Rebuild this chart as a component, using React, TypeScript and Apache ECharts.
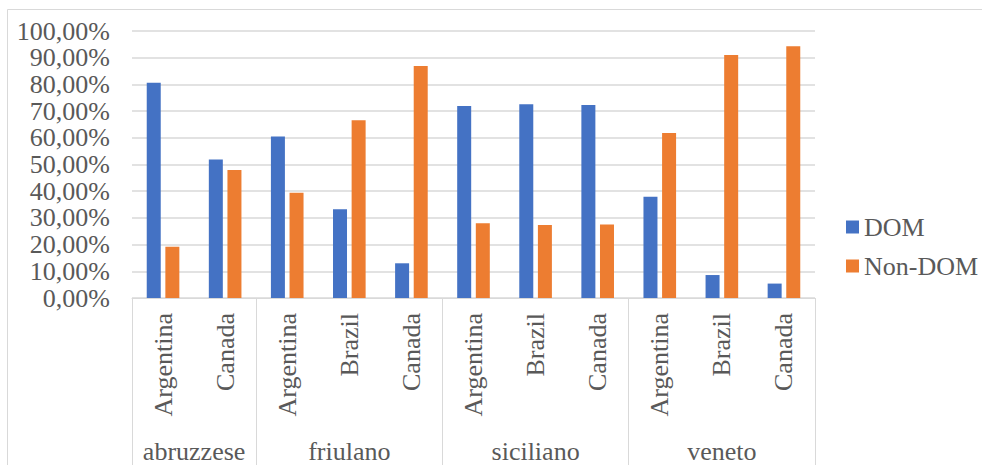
import React, { useEffect, useRef } from "react";
import * as echarts from "echarts";

const languages = ["abruzzese", "friulano", "siciliano", "veneto"];
const countriesByLanguage = [
  ["Argentina", "Canada"],
  ["Argentina", "Brazil", "Canada"],
  ["Argentina", "Brazil", "Canada"],
  ["Argentina", "Brazil", "Canada"],
];
const domValues = [80.6, 51.9, 60.5, 33.2, 13.0, 71.9, 72.6, 72.3, 37.9, 8.6, 5.4];
const nonDomValues = [19.2, 47.9, 39.4, 66.6, 86.9, 28.0, 27.3, 27.5, 61.8, 91.0, 94.3];
const seriesNames = ["DOM", "Non-DOM"];
const colors = ["#4472C4", "#ED7D31"];

const FONT = "Liberation Serif";
const TEXT = "#595959";
const LINE = "#D9D9D9";

export default function App() {
  const ref = useRef<HTMLDivElement>(null);

  useEffect(() => {
    if (!ref.current) return;
    const chart = echarts.init(ref.current, undefined, { renderer: "svg" });

    const countries = countriesByLanguage.flat();
    // secondary axis with half-slot points: boundaries and group centres
    const total = countries.length * 2;
    const halfData: string[] = [];
    for (let i = 0; i <= total; i++) halfData.push("_" + i);
    const boundaryIdx: number[] = [0];
    const labelIdx: Record<number, string> = {};
    let acc = 0;
    countriesByLanguage.forEach((c, gi) => {
      labelIdx[acc * 2 + c.length] = languages[gi];
      acc += c.length;
      boundaryIdx.push(acc * 2);
    });
    const groupData = halfData.map((d, i) => (labelIdx[i] !== undefined ? labelIdx[i] : d));

    const serifText = { fontFamily: FONT, fontSize: 26, color: TEXT, fontWeight: "normal" as const };

    chart.setOption({
      animation: false,
      textStyle: { fontFamily: FONT },
      graphic: [
        {
          type: "rect",
          shape: { x: 7.5, y: 9.5, width: 1000, height: 500 },
          style: { fill: "none", stroke: LINE, lineWidth: 1 },
          silent: true,
        },
      ],
      grid: { left: 132, right: 167, top: 31, bottom: 167, containLabel: false },
      legend: {
        orient: "vertical",
        left: 841,
        top: 209,
        itemWidth: 13,
        itemHeight: 13,
        itemGap: 13,
        icon: "rect",
        data: seriesNames,
        textStyle: { ...serifText },
      },
      xAxis: [
        {
          type: "category",
          data: countries,
          position: "bottom",
          axisLine: { show: true, lineStyle: { color: LINE, width: 1 } },
          axisTick: { show: false },
          axisLabel: {
            interval: 0,
            rotate: 90,
            margin: 15,
            ...serifText,
          },
        },
        {
          type: "category",
          data: groupData,
          position: "bottom",
          offset: 0,
          boundaryGap: false,
          axisLine: { show: false },
          axisTick: {
            show: true,
            length: 175,
            interval: (index: number) => boundaryIdx.includes(index),
            lineStyle: { color: LINE, width: 1 },
          },
          axisLabel: {
            interval: 0,
            margin: 140,
            ...serifText,
            formatter: (v: string) => (v.startsWith("_") ? "" : v),
          },
        },
      ],
      yAxis: {
        type: "value",
        min: 0,
        max: 100,
        interval: 10,
        axisLine: { show: false },
        axisTick: { show: false },
        splitLine: { lineStyle: { color: LINE, width: 1.5 } },
        axisLabel: {
          margin: 22,
          ...serifText,
          formatter: (v: number) => v.toFixed(2).replace(".", ",") + "%",
        },
      },
      series: [
        {
          name: seriesNames[0],
          type: "bar",
          xAxisIndex: 0,
          data: domValues,
          barWidth: 14,
          barGap: "33%",
          itemStyle: { color: colors[0] },
        },
        {
          name: seriesNames[1],
          type: "bar",
          xAxisIndex: 0,
          data: nonDomValues,
          barWidth: 14,
          barGap: "33%",
          itemStyle: { color: colors[1] },
        },
      ],
    });

    return () => chart.dispose();
  }, []);

  return (
    <div
      ref={ref}
      style={{ position: "fixed", left: 0, top: 0, width: 982, height: 465, background: "#fff" }}
    />
  );
}
